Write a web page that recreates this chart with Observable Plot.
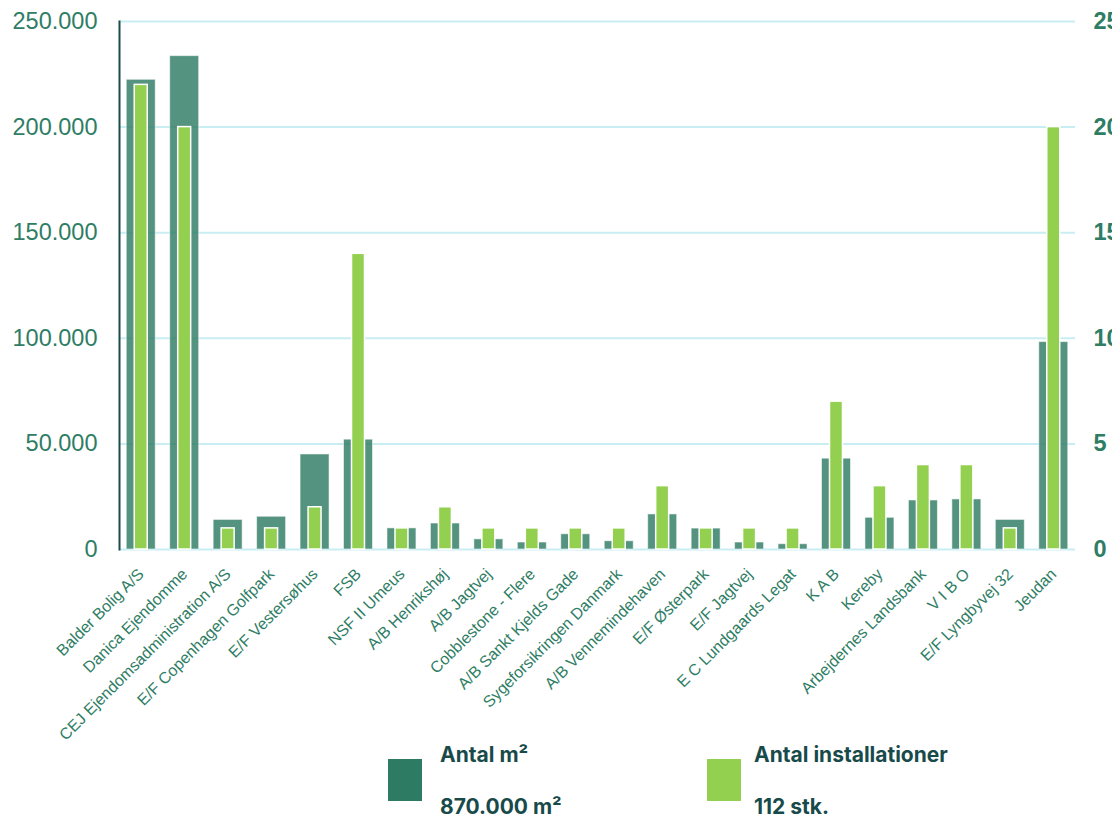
<!DOCTYPE html>
<html>
<head>
<meta charset="utf-8">
<script src="https://cdn.jsdelivr.net/npm/d3@7"></script>
<script src="https://cdn.jsdelivr.net/npm/@observablehq/plot@0.6"></script>
<style>
  html, body { margin: 0; padding: 0; background: #fff; }
  #wrap { position: relative; width: 1112px; }
  #legend { position: relative; width: 1112px; height: 83px; font-family: Inter, "Liberation Sans", Arial, sans-serif; font-weight: 700; color: #184a4a; }
  .sw { position: absolute; top: 24px; width: 34px; height: 42px; }
  .lt { position: absolute; font-size: 21px; line-height: 21px; white-space: nowrap; letter-spacing: 0px; }
</style>
</head>
<body>
<div id="wrap">
  <div id="chart"></div>
  <div id="legend"></div>
</div>
<script>
// ---- data ----
const names = [
  "Balder Bolig A/S", "Danica Ejendomme", "CEJ Ejendomsadministration A/S",
  "E/F Copenhagen Golfpark", "E/F Vestersøhus", "FSB", "NSF II Umeus",
  "A/B Henrikshøj", "A/B Jagtvej", "Cobblestone - Flere", "A/B Sankt Kjelds Gade",
  "Sygeforsikringen Danmark", "A/B Vennemindehaven", "E/F Østerpark", "E/F Jagtvej",
  "E C Lundgaards Legat", "K A B", "Kereby", "Arbejdernes Landsbank", "V I B O",
  "E/F Lyngbyvej 32", "Jeudan"
];
const areaM2 = [
  222400, 233600, 14000, 15500, 45000, 52000, 10000,
  12300, 4800, 3300, 7200, 3900, 16600, 9900, 3300,
  2500, 43000, 15000, 23200, 23700, 14000, 98200
];
const installs = [
  22, 20, 1, 1, 2, 14, 1,
  2, 1, 1, 1, 1, 3, 1, 1,
  1, 7, 3, 4, 4, 1, 20
];
const leftTicks = [0, 50000, 100000, 150000, 200000, 250000];
const rightTicks = [0, 5, 10, 15, 20, 25];
const rightMax = 25, leftMax = 250000;
const legendItems = [
  {title: "Antal m²", total: "870.000 m²", color: "#2e7b63"},
  {title: "Antal installationer", total: "112 stk.", color: "#93d04f"}
];

// ---- build ----
const k = leftMax / rightMax; // right axis -> left axis scale factor
const data = names.map((n, i) => ({name: n, m2: areaM2[i], inst: installs[i]}));
const fmtDK = d => d3.format(",")(d).replace(/,/g, ".");
const green = "#2e7d64";

const chart = Plot.plot({
  width: 1112,
  height: 735,
  marginLeft: 119,
  marginRight: 37,
  marginTop: 21,
  marginBottom: 186,
  style: {fontFamily: "'Liberation Sans', Arial, sans-serif", background: "#fff", overflow: "visible"},
  x: {domain: names, paddingInner: 0.333, paddingOuter: 0.1667, round: false, label: null},
  y: {domain: [0, leftMax], label: null},
  marks: [
    Plot.gridY(leftTicks, {stroke: "#c8eef4", strokeOpacity: 1, strokeWidth: 2}),
    Plot.barY(data, {x: "name", y: "m2", fill: "#2e7b63", fillOpacity: 0.82, stroke: "#ffffff", strokeOpacity: 0.55, strokeWidth: 1}),
    Plot.barY(data, {x: "name", y: d => d.inst * k, fill: "#93d04f", stroke: "#ffffff", strokeWidth: 1.5, insetLeft: 8, insetRight: 8}),
    Plot.frame({anchor: "left", stroke: "#1b4d4a", strokeWidth: 2}),
    Plot.axisY(leftTicks, {anchor: "left", tickSize: 0, tickPadding: 22, tickFormat: fmtDK, fontSize: 23.5, fill: green, label: null}),
    Plot.axisY(rightTicks.map(t => t * k), {anchor: "right", tickSize: 0, tickPadding: 18, tickFormat: d => String(d / k), fontSize: 23.5, fontWeight: "bold", fill: green, label: null}),
    Plot.axisX({tickRotate: -45, tickSize: 0, tickPadding: 22, fontSize: 16, fill: green, label: null})
  ]
});
document.getElementById("chart").appendChild(chart);

// ---- legend (HTML below the SVG) ----
const legend = document.getElementById("legend");
const lefts = [388, 707];
const textLefts = [440, 754];
legendItems.forEach((it, i) => {
  const sw = document.createElement("div");
  sw.className = "sw";
  sw.style.left = lefts[i] + "px";
  sw.style.background = it.color;
  legend.appendChild(sw);
  const t1 = document.createElement("div");
  t1.className = "lt";
  t1.style.left = textLefts[i] + "px";
  t1.style.top = "9px";
  t1.textContent = it.title;
  legend.appendChild(t1);
  const t2 = document.createElement("div");
  t2.className = "lt";
  t2.style.left = textLefts[i] + "px";
  t2.style.top = "61px";
  t2.textContent = it.total;
  legend.appendChild(t2);
});
</script>
</body>
</html>
